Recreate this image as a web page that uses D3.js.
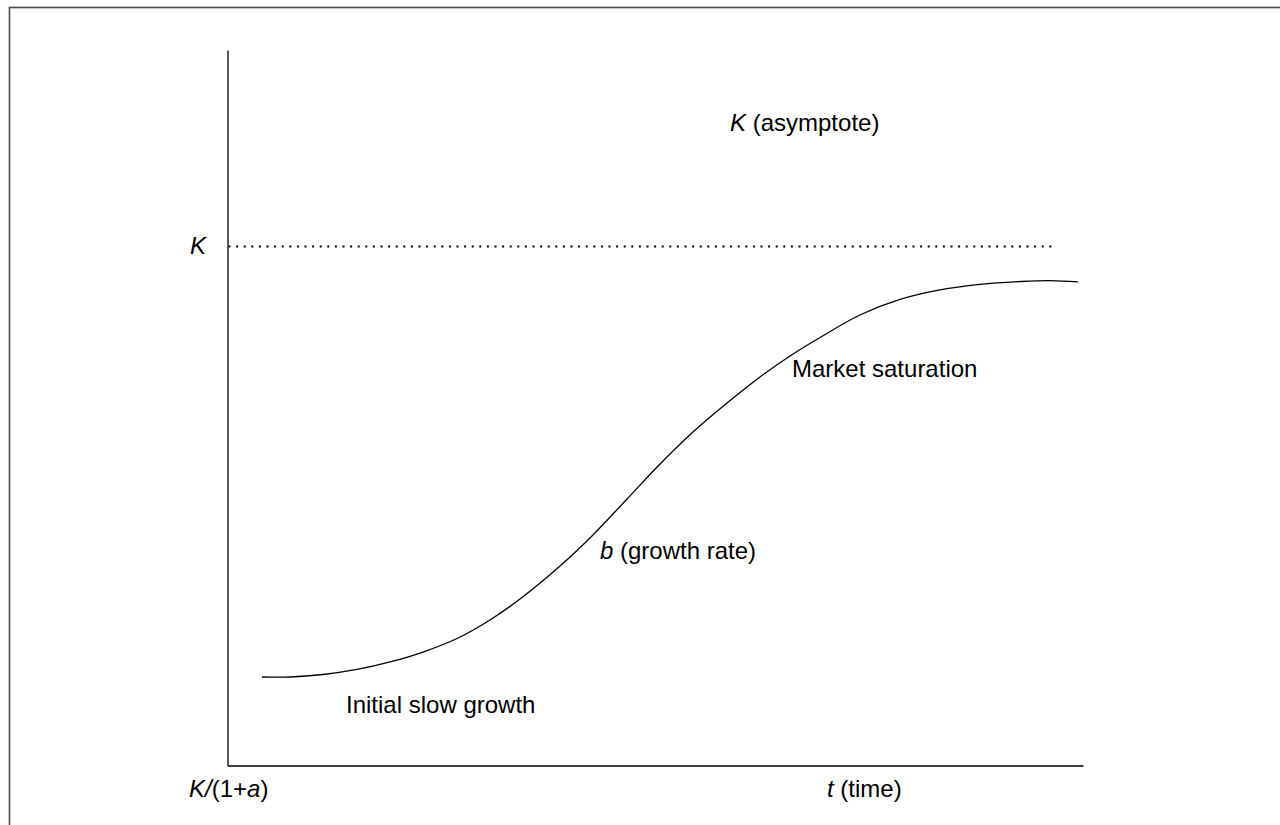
<!DOCTYPE html>
<html>
<head>
<meta charset="utf-8">
<script src="https://cdn.jsdelivr.net/npm/d3@7/dist/d3.min.js"></script>
<style>
  html, body { margin: 0; padding: 0; background: #fff; }
  svg { display: block; }
  text { font-family: "Liberation Sans", Arial, sans-serif; font-size: 24px; fill: #000; }
</style>
</head>
<body>
<svg id="chart" width="1280" height="825"></svg>
<script>
// ---- data ----
const timeValues = [4.03, 7.31, 11.16, 15.14, 19.00, 22.85, 26.83, 30.68, 34.19, 38.87, 42.72, 46.70, 50.56, 54.41, 58.39, 62.25, 65.75, 69.26, 73.93, 78.61, 83.29, 87.96, 92.64, 96.14, 99.42];
const sizeValues = [12.37, 12.37, 12.72, 13.42, 14.47, 15.86, 17.75, 20.34, 23.27, 27.88, 32.22, 37.25, 42.14, 46.61, 50.66, 54.30, 57.23, 59.82, 62.96, 65.13, 66.46, 67.23, 67.64, 67.78, 67.58];
const asymptoteK = 72.54;
const asymptoteEnd = 96.79;
const xDomain = [0, 100];
const yDomain = [0, 100];

const svg = d3.select("#chart");

// outer frame (extends past the viewport on right & bottom)
svg.append("rect")
  .attr("x", 9.5).attr("y", 7.5)
  .attr("width", 1400).attr("height", 1000)
  .attr("fill", "none").attr("stroke", "#4a4a4a").attr("stroke-width", 1.6);

const x = d3.scaleLinear().domain(xDomain).range([227.5, 1083]);
const y = d3.scaleLinear().domain(yDomain).range([765.5, 50]);

// axes (no ticks)
const xAxis = d3.axisBottom(x).tickValues([]).tickSizeOuter(0);
const yAxis = d3.axisLeft(y).tickValues([]).tickSizeOuter(0);
svg.append("g").attr("transform", `translate(0,${y(0)})`).call(xAxis)
  .selectAll("path").attr("stroke", "#000").attr("stroke-width", 1.3);
svg.append("g").attr("transform", `translate(${x(0)},0)`).call(yAxis)
  .selectAll("path").attr("stroke", "#000").attr("stroke-width", 1.3);

// asymptote dotted line
svg.append("line")
  .attr("x1", x(0) + 1).attr("x2", x(asymptoteEnd))
  .attr("y1", y(asymptoteK)).attr("y2", y(asymptoteK))
  .attr("stroke", "#000").attr("stroke-width", 2)
  .attr("stroke-dasharray", "2,5.6");

// S-curve
const pts = timeValues.map((t, i) => [t, sizeValues[i]]);
const line = d3.line().x(d => x(d[0])).y(d => y(d[1])).curve(d3.curveCatmullRom.alpha(0.5));
svg.append("path").datum(pts)
  .attr("d", line)
  .attr("fill", "none").attr("stroke", "#000").attr("stroke-width", 1.3);

// labels
function label(xp, yp, parts) {
  const t = svg.append("text").attr("x", xp).attr("y", yp);
  parts.forEach(p => {
    const s = t.append("tspan").text(p[0]);
    if (p[1]) s.attr("font-style", "italic");
  });
  return t;
}
label(190, 254, [["K", true]]);
label(730, 131, [["K", true], [" (asymptote)", false]]);
label(792, 377, [["Market saturation", false]]);
label(600, 559, [["b", true], [" (growth rate)", false]]);
label(346, 713, [["Initial slow growth", false]]);
label(189, 797, [["K/", true], ["(1+", false], ["a", true], [")", false]]);
label(827, 797, [["t", true], [" (time)", false]]);
</script>
</body>
</html>
